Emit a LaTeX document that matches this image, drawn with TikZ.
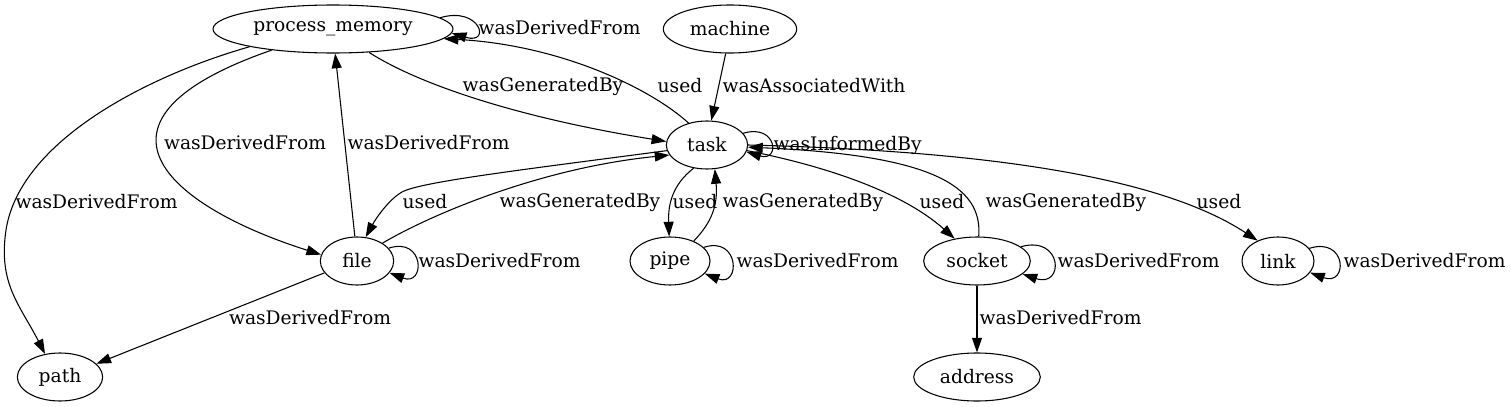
\documentclass[tikz,border=0pt]{standalone}
\usepackage{fontspec}
\setmainfont{DejaVu Serif}
\usepackage{tikz}
\usetikzlibrary{shapes.geometric,arrows.meta}

\begin{document}
\begin{tikzpicture}[
        x=0.75pt, y=-0.75pt,
        node distance=87pt,
        state/.style={ellipse, draw, line width=0.8pt, minimum height=36pt, inner sep=0pt, font=\fontsize{14}{16}\selectfont},
        lbl/.style={font=\fontsize{14}{16}\selectfont, inner sep=0pt},
        arrow/.style={-{Triangle[length=11pt, width=7.5pt]}, line width=0.8pt}
    ]
        \useasboundingbox (0,0) rectangle (1511,407);

        % Row 1
        \node[state, minimum width=180pt] (pm) at (333,29) {process\_memory};
        \node[state, minimum width=100pt] (machine) at (730,29) {machine};

        % Row 2
        \node[state, minimum width=61pt] (task) at (707,145) {task};

        % Row 3
        \node[state, minimum width=55pt] (file) at (357,261) {file};
        \node[state, minimum width=60pt] (pipe) at (670,261) {pipe};
        \node[state, minimum width=80pt] (socket) at (977,261) {socket};
        \node[state, minimum width=54pt] (link) at (1278,261) {link};

        % Row 4
        \node[state, minimum width=64pt] (path) at (60,377) {path};
        \node[state, minimum width=95pt, below of=socket] (address) {address};

        % Edges from process_memory
        \draw[arrow] (pm.6) .. controls +(40,-12) and +(40,12) .. (pm.-2)
            node[lbl, anchor=west] (l1) at (478,28) {wasDerivedFrom};
        \draw[arrow] (pm.-33) .. controls (420,85) and (520,118) .. (task.175)
            node[lbl] (l2) at (543,86) {wasGeneratedBy};
        \draw[arrow] (pm.-161) .. controls (70,120) and (165,205) .. (file.170)
            node[lbl] (l3) at (245,143) {wasDerivedFrom};
        \draw[arrow] (pm.-168) .. controls (150,75) and (20,140) .. (6,230)
            .. controls (-2,284) and (20,305) .. (path.123)
            node[lbl, anchor=west] (l4) at (15,202) {wasDerivedFrom};

        % Edges from machine
        \draw[arrow] (machine.-100) -- (task.80)
            node[lbl, anchor=west] (l5) at (722,86) {wasAssociatedWith};

        % Edges from task
        \draw[arrow] (task.18) .. controls +(34,-10) and +(34,10) .. (task.-10)
            node[lbl, anchor=west] (l6) at (773,145) {wasInformedBy};
        \draw[arrow] (task.130) .. controls (650,88) and (560,45) .. (pm.-5)
            node[lbl] (l7) at (680,86) {used};
        \draw[arrow] (task.-172) .. controls (520,170) and (420,182) .. (402,192)
            .. controls (388,200) and (375,220) .. (file.70)
            node[lbl] (l8) at (425,202) {used};
        \draw[arrow] (task.-120) .. controls (672,185) and (668,205) .. (pipe.92)
            node[lbl] (l9) at (695,202) {used};
        \draw[arrow] (task.-8) .. controls (820,165) and (900,190) .. (socket.135)
            node[lbl] (l10) at (942,202) {used};
        \draw[arrow] (task.0) .. controls (950,150) and (1150,170) .. (link.135)
            node[lbl] (l11) at (1219,202) {used};

        % Edges from file
        \draw[arrow] (file.22) .. controls +(36,-12) and +(36,14) .. (file.-20)
            node[lbl, anchor=west] (l12) at (418,261) {wasDerivedFrom};
        \draw[arrow] (file.95) -- (pm.-85)
            node[lbl, anchor=west] (l13) at (347,143) {wasDerivedFrom};
        \draw[arrow] (file.35) .. controls (430,215) and (540,168) .. (task.-165)
            node[lbl] (l14) at (580,202) {wasGeneratedBy};
        \draw[arrow] (file.-160) -- (path.20)
            node[lbl] (l15) at (310,318) {wasDerivedFrom};

        % Edges from pipe
        \draw[arrow] (pipe.22) .. controls +(36,-12) and +(36,14) .. (pipe.-20)
            node[lbl, anchor=west] (l16) at (736,261) {wasDerivedFrom};
        \draw[arrow] (pipe.40) .. controls (712,222) and (718,205) .. (task.-72)
            node[lbl, anchor=west] (l17) at (722,202) {wasGeneratedBy};

        % Edges from socket
        \draw[arrow] (socket.18) .. controls +(42,-12) and +(42,14) .. (socket.-16)
            node[lbl, anchor=west] (l18) at (1057,261) {wasDerivedFrom};
        \draw[arrow] (socket.86) .. controls (983,185) and (930,155) .. (task.-3)
            node[lbl, anchor=west] (l19) at (985,202) {wasGeneratedBy};
        \draw[arrow] (socket) -- (address)
            node[lbl, anchor=west] (l20) at (979,318) {wasDerivedFrom};

        % Edges from link
        \draw[arrow] (link.22) .. controls +(38,-12) and +(38,14) .. (link.-20)
            node[lbl, anchor=west] (l21) at (1343,261) {wasDerivedFrom};
    \end{tikzpicture}
\end{document}
